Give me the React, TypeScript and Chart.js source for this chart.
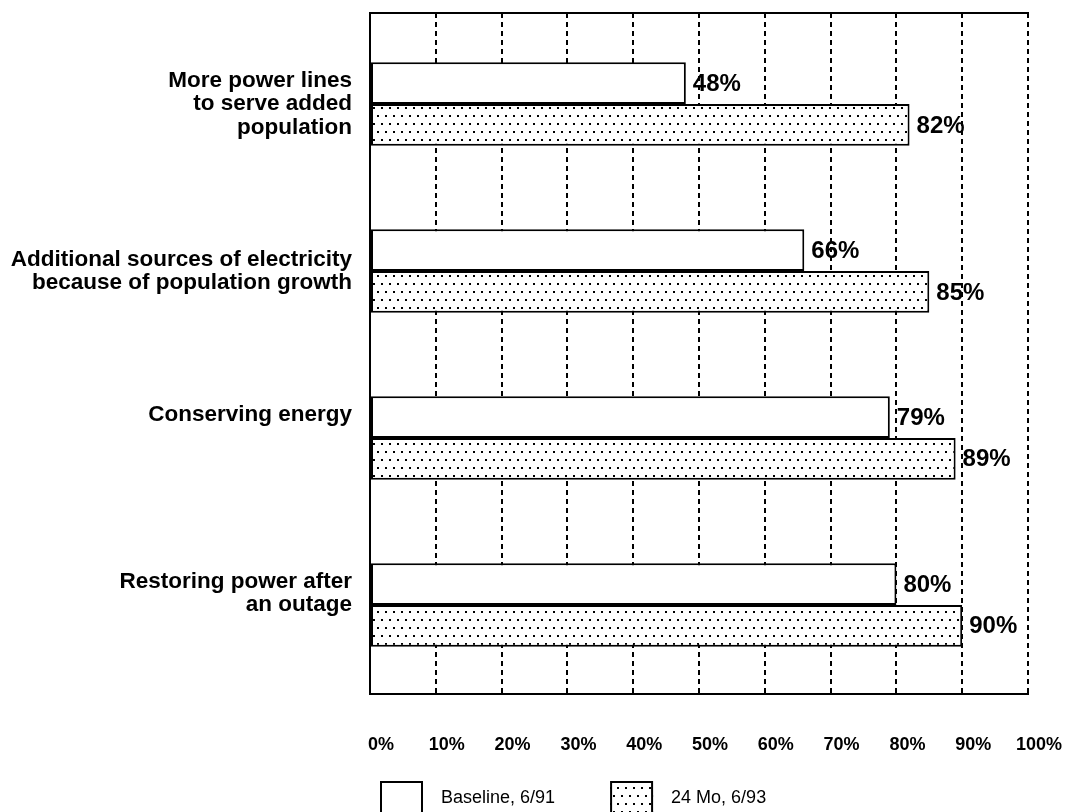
import { useEffect, useRef } from 'react';
import { Chart, registerables } from 'chart.js';

Chart.register(...registerables);

// ---- data ----
const categoryLabels: string[][] = [
  ['More power lines', 'to serve added', 'population'],
  ['Additional sources of electricity', 'because of population growth'],
  ['Conserving energy', '', ''],
  ['Restoring power after', 'an outage', ''],
];
const baselineValues: number[] = [48, 66, 79, 80];
const month24Values: number[] = [82, 85, 89, 90];
const seriesNames: string[] = ['Baseline, 6/91', '24 Mo, 6/93'];
const xTickLabels: string[] = ['0%', '10%', '20%', '30%', '40%', '50%', '60%', '70%', '80%', '90%', '100%'];

const FONT = "'Liberation Sans', Arial, Helvetica, sans-serif";

function makeDotPattern(): CanvasPattern | string {
  const c = document.createElement('canvas');
  c.width = 8;
  c.height = 16;
  const g = c.getContext('2d');
  if (!g) return '#ddd';
  g.fillStyle = '#ffffff';
  g.fillRect(0, 0, 8, 16);
  g.fillStyle = '#000000';
  g.fillRect(1, 3, 2, 2);
  g.fillRect(5, 11, 2, 2);
  return g.createPattern(c, 'repeat') || '#ddd';
}

const valueLabelPlugin = {
  id: 'valueLabels',
  afterDatasetsDraw(chart: any) {
    const ctx = chart.ctx;
    ctx.save();
    ctx.font = `bold 24px ${FONT}`;
    ctx.fillStyle = '#000';
    ctx.textAlign = 'left';
    ctx.textBaseline = 'middle';
    chart.data.datasets.forEach((ds: any, di: number) => {
      const meta = chart.getDatasetMeta(di);
      meta.data.forEach((bar: any, i: number) => {
        const v = ds.data[i].x;
        ctx.fillText(`${v}%`, bar.x + 7, bar.y + 1);
      });
    });
    ctx.restore();
  },
};

const bottomLegendPlugin = {
  id: 'bottomLegend',
  afterDraw(chart: any, _args: any, opts: any) {
    const { ctx, chartArea } = chart;
    let x = chartArea.left + opts.offsetX;
    const y = chartArea.bottom + opts.offsetY;
    ctx.save();
    ctx.font = opts.font;
    ctx.textBaseline = 'middle';
    ctx.textAlign = 'left';
    chart.data.datasets.forEach((ds: any) => {
      ctx.fillStyle = ds.backgroundColor;
      ctx.fillRect(x, y, opts.boxWidth, opts.boxHeight);
      ctx.lineWidth = 2;
      ctx.strokeStyle = '#000';
      ctx.strokeRect(x + 1, y + 1, opts.boxWidth - 2, opts.boxHeight - 2);
      x += opts.boxWidth + opts.textGap;
      ctx.fillStyle = '#000';
      ctx.fillText(ds.label, x, y + opts.boxHeight / 2);
      x += ctx.measureText(ds.label).width + opts.itemGap;
    });
    ctx.restore();
  },
};

const zeroPadding = (s: any) => {
  s.paddingLeft = 0;
  s.paddingRight = 0;
  s.paddingTop = 0;
  s.paddingBottom = 0;
};

export default function App() {
  const ref = useRef<HTMLCanvasElement>(null);

  useEffect(() => {
    const canvas = ref.current;
    if (!canvas) return;
    const pattern = makeDotPattern();

    const chart = new Chart(canvas, {
      type: 'bar',
      data: {
        datasets: [
          {
            label: seriesNames[0],
            data: baselineValues.map((v, i) => ({ x: v, y: i })),
            backgroundColor: '#ffffff',
            borderColor: '#000000',
            borderWidth: 2,
            borderSkipped: false,
            barPercentage: 1,
            categoryPercentage: 0.5,
          },
          {
            label: seriesNames[1],
            data: month24Values.map((v, i) => ({ x: v, y: i })),
            backgroundColor: pattern as any,
            borderColor: '#000000',
            borderWidth: 2,
            borderSkipped: false,
            barPercentage: 1,
            categoryPercentage: 0.5,
          },
        ],
      } as any,
      options: {
        indexAxis: 'y',
        responsive: false,
        animation: false,
        events: [],
        layout: { autoPadding: false, padding: { left: 0, right: 37, top: 0, bottom: 0 } },
        plugins: {
          legend: { display: false },
          tooltip: { enabled: false },
          bottomLegend: {
            offsetX: 10,
            offsetY: 87,
            boxWidth: 43,
            boxHeight: 34,
            textGap: 18,
            itemGap: 55,
            font: `normal 18px ${FONT}`,
          },
        } as any,
        scales: {
          x: {
            type: 'linear',
            position: 'bottom',
            min: 0,
            max: 100,
            ticks: {
              stepSize: 10,
              callback: (_v: any, i: number) => xTickLabels[i],
              font: { family: FONT, size: 18, weight: 'bold' },
              color: '#000',
              padding: 40,
              labelOffset: 11,
              maxRotation: 0,
              autoSkip: false,
            },
            grid: { color: '#000', lineWidth: 2, drawTicks: false },
            border: { display: true, color: '#000', width: 2, dash: [5, 4] },
            afterFit: (s: any) => {
              s.height = 118;
              zeroPadding(s);
            },
          },
          x2: {
            type: 'linear',
            position: 'top',
            min: 0,
            max: 100,
            ticks: { display: false },
            grid: { display: false, drawTicks: false },
            border: { display: true, color: '#000', width: 2 },
            afterFit: (s: any) => {
              s.height = 13;
              zeroPadding(s);
            },
          },
          y: {
            type: 'linear',
            position: 'left',
            reverse: true,
            offset: false,
            min: -0.545,
            max: 3.533,
            afterBuildTicks: (s: any) => {
              s.ticks = categoryLabels.map((_, i) => ({ value: i }));
            },
            ticks: {
              callback: (v: any) => categoryLabels[v as number],
              font: { family: FONT, size: 22.5, weight: 'bold', lineHeight: 1.04 },
              color: '#000',
              padding: 18,
              autoSkip: false,
            },
            grid: { display: false, drawTicks: false, offset: false },
            border: { display: true, color: '#000', width: 2 },
            afterFit: (s: any) => {
              s.width = 370;
              zeroPadding(s);
            },
          },
        } as any,
      },
      plugins: [valueLabelPlugin, bottomLegendPlugin],
    });

    return () => chart.destroy();
  }, []);

  return (
    <div style={{ position: 'absolute', left: 0, top: 0, width: 1065, height: 812 }}>
      <canvas ref={ref} width={1065} height={812} style={{ display: 'block' }} />
    </div>
  );
}
